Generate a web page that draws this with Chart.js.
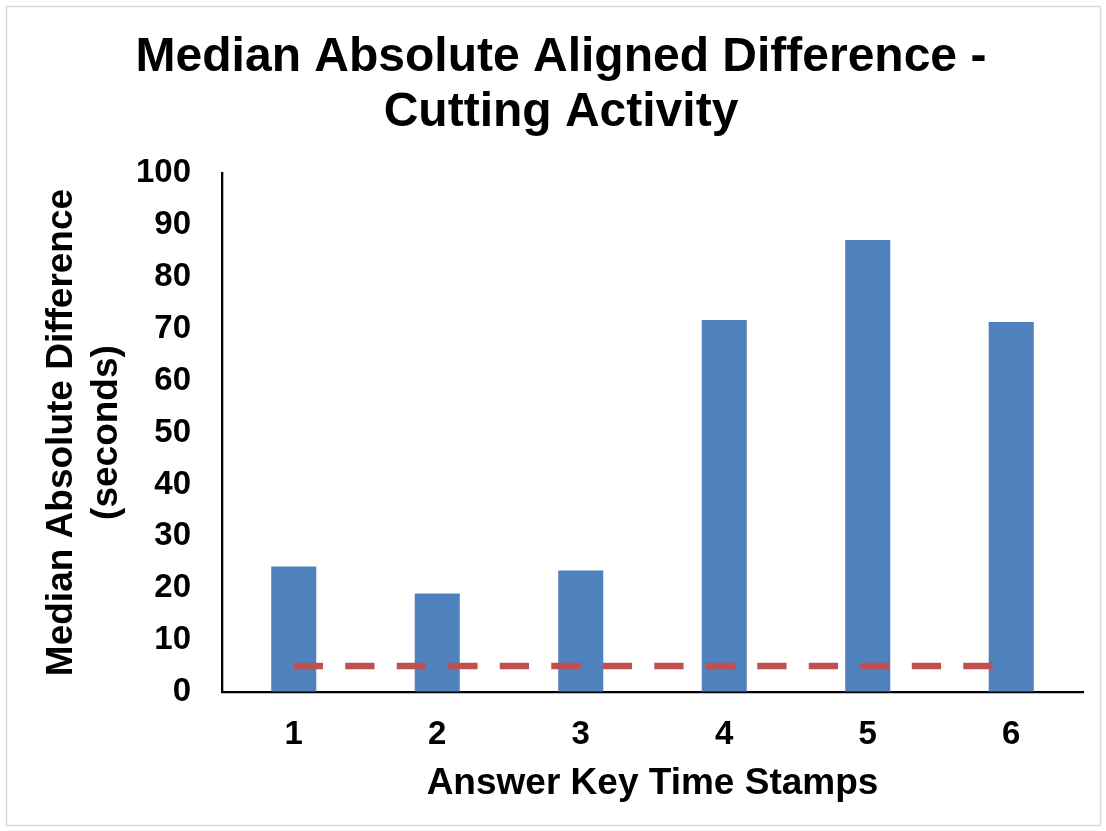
<!DOCTYPE html>
<html>
<head>
<meta charset="utf-8">
<script src="https://cdn.jsdelivr.net/npm/chart.js@4/dist/chart.umd.min.js"></script>
<style>
  html, body { margin: 0; padding: 0; background: #ffffff; }
  #wrap { width: 1106px; height: 831px; position: relative; }
</style>
</head>
<body>
<div id="wrap"><canvas id="chart" width="1106" height="831"></canvas></div>
<script>
// Answer key time stamps and the median absolute aligned difference (seconds)
const categories = ['1', '2', '3', '4', '5', '6'];
const medianDiff = [24.2, 19.0, 23.4, 71.7, 87.1, 71.3];
const threshold = [5, 5, 5, 5, 5, 5];
const yTicks = [0, 10, 20, 30, 40, 50, 60, 70, 80, 90, 100];

const FONT = '"Liberation Sans", Arial, Helvetica, sans-serif';

// light frame around the whole chart
const framePlugin = {
  id: 'frame',
  beforeDraw(chart) {
    const ctx = chart.ctx;
    ctx.save();
    ctx.fillStyle = '#ffffff';
    ctx.fillRect(0, 0, chart.width, chart.height);
    ctx.strokeStyle = '#D9D9D9';
    ctx.lineWidth = 1.5;
    ctx.strokeRect(6.5, 6.5, 1094, 819);
    ctx.restore();
  }
};

new Chart(document.getElementById('chart'), {
  data: {
    labels: categories,
    datasets: [
      {
        type: 'line',
        data: threshold,
        borderColor: '#C0504D',
        borderWidth: 6.5,
        borderDash: [29.3, 22.2],
        borderCapStyle: 'butt',
        pointRadius: 0,
        fill: false,
        order: 0
      },
      {
        type: 'bar',
        data: medianDiff,
        backgroundColor: '#4F81BD',
        borderWidth: 0,
        barPercentage: 0.314,
        categoryPercentage: 1,
        order: 1
      }
    ]
  },
  options: {
    responsive: false,
    animation: false,
    devicePixelRatio: 1,
    layout: { padding: { left: 39, right: 23, top: 0, bottom: 0 } },
    plugins: {
      legend: { display: false },
      tooltip: { enabled: false },
      title: {
        display: true,
        text: ['Median Absolute Aligned Difference -', 'Cutting Activity'],
        color: '#000000',
        font: { family: FONT, size: 48, weight: 'bold', lineHeight: 1.146 },
        padding: { top: 30, bottom: 33 }
      }
    },
    scales: {
      x: {
        type: 'category',
        grid: { display: true, drawOnChartArea: false, drawTicks: false },
        border: { display: true, color: '#000000', width: 2.3 },
        ticks: {
          color: '#000000',
          font: { family: FONT, size: 33, weight: 'bold' },
          padding: 23,
          maxRotation: 0
        },
        title: {
          display: true,
          text: 'Answer Key Time Stamps',
          color: '#000000',
          font: { family: FONT, size: 37, weight: 'bold' },
          padding: { top: 0, bottom: 25 }
        },
        afterFit(scale) { scale.height = 139; }
      },
      y: {
        type: 'linear',
        min: 0,
        max: 100,
        afterBuildTicks(scale) { scale.ticks = yTicks.map(v => ({ value: v })); },
        grid: { display: true, drawOnChartArea: false, drawTicks: false },
        border: { display: true, color: '#000000', width: 2.3 },
        ticks: {
          color: '#000000',
          font: { family: FONT, size: 33, weight: 'bold' },
          padding: 31
        },
        title: {
          display: true,
          text: ['Median Absolute Difference', '(seconds)'],
          color: '#000000',
          font: { family: FONT, size: 37, weight: 'bold', lineHeight: 1.22 },
          padding: { top: 0, bottom: 0 }
        },
        afterFit(scale) { scale.width = 222 - 39; }
      }
    }
  },
  plugins: [framePlugin]
});
</script>
</body>
</html>
